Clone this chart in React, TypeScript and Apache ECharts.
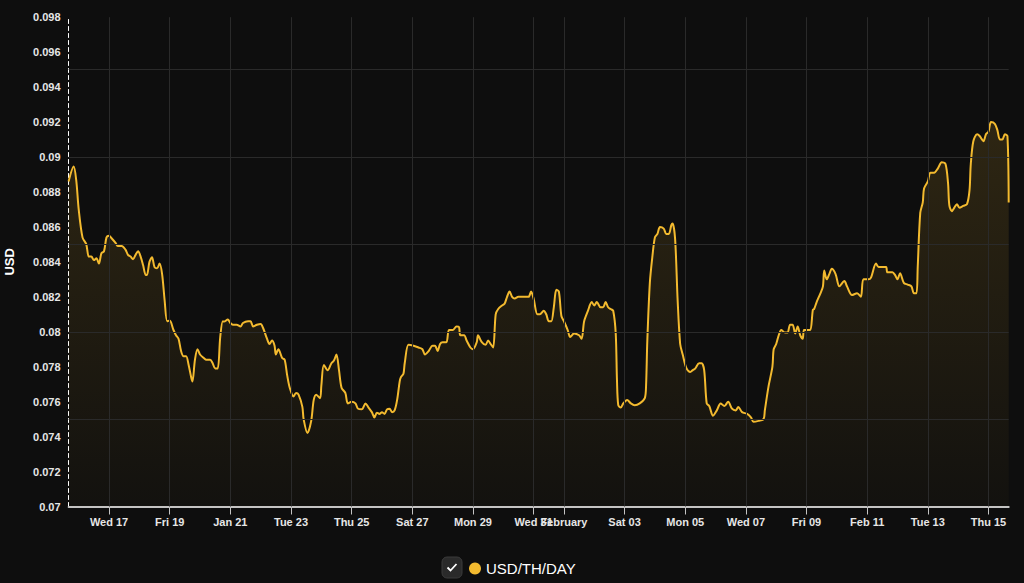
import React, { useEffect, useRef } from "react";
import * as echarts from "echarts";

// Series start: 2024-01-15 16:00 UTC; offsets in hours
const START = "2024-01-15T16:00:00Z";
const hours = [
  0, 4, 6, 8, 11, 14, 16, 18, 20, 22, 24, 26, 28, 30, 32, 34, 37, 39, 42, 45, 47, 49, 51, 53, 55, 57, 59, 61, 62, 64,
  66, 68, 70, 72, 74, 76, 78, 80, 83, 85, 87, 89, 91, 93, 95, 97, 98, 100, 102, 104, 107, 109, 112, 114, 116, 118,
  120, 122, 123, 126, 128, 130, 133, 136, 138, 142, 144, 146, 149, 152, 154, 157, 159, 161, 163, 164, 166, 169, 171,
  173, 175, 178, 180, 182, 185, 186, 189, 192, 194, 196, 199, 200, 202, 205, 208, 210, 212, 214, 216, 219, 221, 224,
  227, 229, 232, 235, 237, 240, 242, 244, 246, 248, 250, 252, 254, 256, 258, 260, 262, 263, 265, 266, 269, 273, 277,
  280, 282, 285, 288, 290, 292, 294, 296, 299, 301, 304, 307, 309, 310, 313, 315, 318, 320, 323, 324, 327, 330, 332,
  334, 336, 338, 340, 343, 345, 347, 349, 351, 353, 356, 360, 364, 366, 368, 371, 373, 376, 378, 380, 382, 384, 386,
  388, 390, 392, 395, 397, 400, 404, 406, 408, 411, 414, 416, 418, 421, 423, 425, 427, 429, 431, 433, 434, 435, 437,
  439, 442, 445, 448, 452, 456, 457, 458, 460, 462, 464, 466, 468, 471, 473, 475, 477, 478, 480, 482, 484, 486, 489,
  492, 494, 496, 499, 501, 503, 505, 507, 510, 513, 516, 519, 522, 525, 528, 530, 533, 537, 540, 542, 546, 550, 551,
  554, 557, 558, 560, 562, 564, 567, 569, 571, 573, 575, 577, 579, 581, 582, 585, 587, 589, 590, 592, 595, 597, 598,
  600, 602, 604, 607, 610, 614, 616, 620, 624, 627, 629, 633, 635, 639, 641, 644, 647, 648, 652, 654, 656, 658, 661,
  664, 667, 669, 671, 672, 674, 676, 677, 680, 682, 685, 688, 691, 694, 696, 697, 699, 701, 703, 705, 708, 711, 713,
  714, 716, 719, 721, 724, 726, 728, 730, 733, 735, 737, 739, 741, 743, 744,
];
const usdPerThDay = [
  0.0886, 0.08945, 0.0887, 0.087, 0.0854, 0.085, 0.0843, 0.0843, 0.0841, 0.0842, 0.0839, 0.0845, 0.0846, 0.0854,
  0.0855, 0.08535, 0.0851, 0.0849, 0.0849, 0.0847, 0.0844, 0.0843, 0.08415, 0.0844, 0.0846, 0.0843, 0.0838, 0.08325,
  0.08325, 0.084, 0.08426, 0.0837, 0.08363, 0.0839, 0.0833, 0.0818, 0.0806, 0.08064, 0.0801, 0.0798, 0.0796, 0.0789,
  0.0786, 0.0786, 0.0781, 0.0774, 0.07715, 0.0784, 0.079, 0.0787, 0.0785, 0.0784, 0.0784, 0.0782, 0.0779, 0.0779,
  0.0797, 0.0806, 0.08058, 0.0807, 0.0805, 0.0804, 0.0804, 0.0803, 0.0805, 0.0806, 0.0806, 0.0803, 0.0804, 0.08045,
  0.0802, 0.0796, 0.0793, 0.0795, 0.0792, 0.0787, 0.079, 0.0785, 0.0784, 0.0775, 0.0768, 0.0763, 0.0765, 0.0764,
  0.0757, 0.075, 0.0742, 0.0749, 0.0761, 0.0764, 0.0762, 0.0769, 0.0781, 0.0778, 0.0782, 0.07835, 0.0787, 0.0778,
  0.0768, 0.0765, 0.0759, 0.076, 0.0759, 0.0756, 0.07556, 0.0759, 0.0757, 0.0754, 0.0751, 0.07537, 0.0753, 0.0754,
  0.0753, 0.07556, 0.0756, 0.0754, 0.0755, 0.0761, 0.07715, 0.0774, 0.0776, 0.0782, 0.07925, 0.0792, 0.0791, 0.079,
  0.0787, 0.0789, 0.0792, 0.0792, 0.0789, 0.0793, 0.0794, 0.0794, 0.0801, 0.0801, 0.0803, 0.08026, 0.0798, 0.0798,
  0.0795, 0.0791, 0.079, 0.0794, 0.0798, 0.0794, 0.07925, 0.0795, 0.0793, 0.0791, 0.081, 0.0813, 0.0815, 0.0816,
  0.082, 0.0823, 0.082, 0.0819, 0.082, 0.082, 0.082, 0.0823, 0.0819, 0.081, 0.081, 0.0812, 0.081, 0.0806, 0.0806,
  0.0814, 0.0824, 0.0823, 0.0809, 0.0806, 0.0801, 0.0797, 0.0799, 0.0798, 0.0796, 0.0806, 0.0812, 0.0817, 0.0815,
  0.0817, 0.0814, 0.0814, 0.0817, 0.0814, 0.0813, 0.0812, 0.0799, 0.0772, 0.0758, 0.07566, 0.0759, 0.0761, 0.0759,
  0.0758, 0.0759, 0.0762, 0.0769, 0.0795, 0.0828, 0.0843, 0.0854, 0.0856, 0.086, 0.0859, 0.0856, 0.0856, 0.0861,
  0.0862, 0.0853, 0.0818, 0.0793, 0.0787, 0.0779, 0.0777, 0.0778, 0.0779, 0.0782, 0.0782, 0.0778, 0.0759, 0.07575,
  0.0752, 0.0755, 0.0759, 0.07575, 0.076, 0.0756, 0.0755, 0.0757, 0.0754, 0.0753, 0.0751, 0.07485, 0.0749, 0.075,
  0.0755, 0.0769, 0.078, 0.079, 0.0793, 0.0798, 0.0801, 0.07995, 0.07995, 0.0804, 0.0804, 0.0799, 0.0803, 0.0798,
  0.0796, 0.0801, 0.0801, 0.0801, 0.08125, 0.0813, 0.0817, 0.0822, 0.0826, 0.0835, 0.083, 0.0833, 0.0836, 0.0833,
  0.0826, 0.0829, 0.0826, 0.0821, 0.0822, 0.082, 0.083, 0.083, 0.0831, 0.0839, 0.0837, 0.0837, 0.0837, 0.0834,
  0.0834, 0.08325, 0.083, 0.08335, 0.0828, 0.0827, 0.0826, 0.0822, 0.0822, 0.0837, 0.0868, 0.0874, 0.0882, 0.0886,
  0.0891, 0.0891, 0.08935, 0.0897, 0.0896, 0.0885, 0.08725, 0.0869, 0.0871, 0.0873, 0.0871, 0.0872, 0.0873, 0.0881,
  0.0896, 0.0909, 0.0913, 0.0912, 0.0909, 0.0913, 0.09145, 0.092, 0.0919, 0.09155, 0.091, 0.091, 0.0913, 0.0912,
  0.0874,
];

const tickDates = [
  "2024-01-17", "2024-01-19", "2024-01-21", "2024-01-23", "2024-01-25", "2024-01-27", "2024-01-29", "2024-01-31",
  "2024-02-01", "2024-02-03", "2024-02-05", "2024-02-07", "2024-02-09", "2024-02-11", "2024-02-13", "2024-02-15",
];
const tickLabels = [
  "Wed 17", "Fri 19", "Jan 21", "Tue 23", "Thu 25", "Sat 27", "Mon 29", "Wed 31",
  "February", "Sat 03", "Mon 05", "Wed 07", "Fri 09", "Feb 11", "Tue 13", "Thu 15",
];
const gridValues = [0.075, 0.08, 0.085, 0.09, 0.095];
const seriesName = "USD/TH/DAY";

const YELLOW = "#f3ba2f";
const BG = "#0e0e0e";
const FONT = "'Liberation Sans', Arial, sans-serif";

export default function App() {
  const ref = useRef<HTMLDivElement>(null);

  useEffect(() => {
    if (!ref.current) return;
    const chart = echarts.init(ref.current, null, { renderer: "svg" });
    const base = Date.parse(START);
    const times = hours.map((h) => base + h * 3600 * 1000);
    const data = times.map((t, i) => [t, usdPerThDay[i]]);
    const tickTimes = tickDates.map((d) => Date.parse(d + "T00:00:00Z"));
    const labelFor = (v: number) => {
      let best = 0;
      let bd = Infinity;
      tickTimes.forEach((t, i) => {
        const d = Math.abs(t - v);
        if (d < bd) {
          bd = d;
          best = i;
        }
      });
      return tickLabels[best];
    };

    chart.setOption({
      animation: false,
      backgroundColor: BG,
      textStyle: { fontFamily: FONT },
      grid: {
        left: 68.6,
        right: 15.3,
        top: 17.2,
        bottom: 76.5,
        containLabel: false,
        outerBoundsMode: "none",
      },
      legend: {
        left: 469,
        top: 561,
        padding: 0,
        icon: "circle",
        itemWidth: 12,
        itemHeight: 12,
        itemGap: 10,
        data: [{ name: seriesName, itemStyle: { color: YELLOW } }],
        textStyle: { color: "#ffffff", fontSize: 15, fontFamily: FONT },
        selectedMode: false,
      },
      xAxis: {
        type: "value",
        min: times[0],
        max: times[times.length - 1],
        axisLine: { show: true, lineStyle: { color: "#c4c4c4", width: 2 } },
        axisTick: { show: true, customValues: tickTimes, length: 8, lineStyle: { color: "#c4c4c4", width: 1 } },
        axisLabel: {
          customValues: tickTimes,
          formatter: (v: number) => labelFor(v),
          color: "#e6e6e6",
          fontSize: 11,
          fontWeight: "bold",
          fontFamily: FONT,
          margin: 10,
          hideOverlap: false,
        },
        splitLine: { show: false },
      },
      yAxis: {
        type: "value",
        min: 0.07,
        max: 0.098,
        interval: 0.002,
        name: "USD",
        nameLocation: "middle",
        nameRotate: 90,
        nameGap: 53,
        nameTextStyle: { color: "#ffffff", fontSize: 13, fontWeight: "bold", fontFamily: FONT },
        axisLine: { show: true, lineStyle: { color: "#ffffff", type: [4, 3], width: 1 } },
        axisTick: { show: false },
        axisLabel: {
          color: "#e6e6e6",
          fontSize: 11,
          fontWeight: "bold",
          fontFamily: FONT,
          margin: 8,
          formatter: (v: number) => String(parseFloat(v.toFixed(3))),
        },
        splitLine: { show: false },
      },
      series: [
        {
          name: "grid",
          type: "line",
          data: [],
          z: 0,
          silent: true,
          markLine: {
            silent: true,
            symbol: "none",
            precision: 6,
            label: { show: false },
            lineStyle: { color: "#2a2a2a", type: "solid", width: 1 },
            data: [
              ...tickTimes.map((t) => ({ xAxis: t })),
              ...gridValues.map((v) => ({ yAxis: v })),
            ],
          },
        },
        {
          name: seriesName,
          type: "line",
          data,
          z: 2,
          showSymbol: false,
          smooth: 0.3,
          itemStyle: { color: YELLOW },
          lineStyle: { color: YELLOW, width: 2 },
          areaStyle: {
            color: new echarts.graphic.LinearGradient(0, 0, 0, 1, [
              { offset: 0, color: "rgba(243,186,47,0.2)" },
              { offset: 1, color: "rgba(243,186,47,0.03)" },
            ]),
          },
        },
      ],
      graphic: [
        {
          type: "rect",
          shape: { x: 442, y: 557, width: 20, height: 21, r: 5 },
          style: { fill: "#2a2a2a", stroke: "#3a3a3a", lineWidth: 1 },
        },
        {
          type: "polyline",
          shape: { points: [[447.5, 567.5], [450.5, 570.5], [456.5, 564]] },
          style: { stroke: "#ffffff", lineWidth: 1.8, fill: null },
        },
      ],
    });
    return () => chart.dispose();
  }, []);

  return (
    <div
      ref={ref}
      style={{ position: "fixed", left: 0, top: 0, width: 1024, height: 583, background: BG }}
    />
  );
}
